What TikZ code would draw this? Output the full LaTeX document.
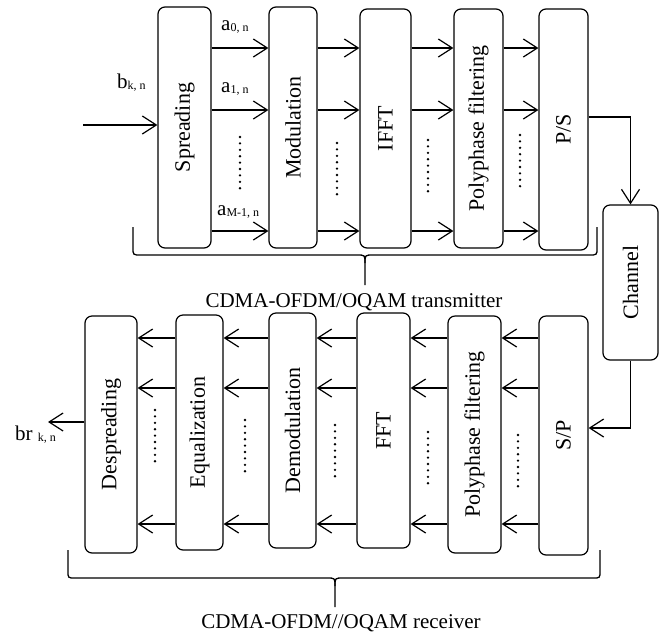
\documentclass[tikz,border=0pt]{standalone}
\usepackage{fontspec}
\setmainfont{Liberation Serif}
\usetikzlibrary{arrows.meta}
\begin{document}
\begin{tikzpicture}[x=1pt,y=-1pt,
  box/.style={draw, line width=1.2pt, rounded corners=7pt, inner sep=0pt, font=\fontsize{22}{22}\selectfont},
  arr/.style={line width=1.2pt, -{Straight Barb[length=14pt,width=18pt,line width=1.2pt]}},
  dotline/.style={line width=2.6pt, line cap=round, dash pattern=on 0pt off 6.4pt},
  brace/.style={line width=1.3pt},
  lbl/.style={inner sep=0pt, anchor=base west, font=\fontsize{21}{21}\selectfont},
  captext/.style={inner sep=0pt, anchor=base, font=\fontsize{21}{21}\selectfont}]
\useasboundingbox (0,0) rectangle (666,641);
\newcommand{\sbs}[1]{{\fontsize{12}{12}\selectfont\raisebox{-1.5pt}{#1}}}
% transmitter boxes
\node[box, minimum width=53pt, minimum height=241pt] (sp)   at (184.5,127.5) {\rotatebox{90}{Spreading}};
\node[box, minimum width=48pt, minimum height=241pt] (mod)  at (293,127.5)   {\rotatebox{90}{Modulation}};
\node[box, minimum width=51pt, minimum height=239pt] (ifft) at (385.5,128.5) {\rotatebox{90}{IFFT}};
\node[box, minimum width=49pt, minimum height=239pt] (ppt)  at (478.5,128.5) {\rotatebox{90}{Polyphase filtering}};
\node[box, minimum width=49pt, minimum height=241pt] (ps)   at (563.5,129.5) {\rotatebox{90}{P/S}};
\node[box, minimum width=55pt, minimum height=155pt] (ch)   at (630.5,282.5) {\rotatebox{90}{Channel}};
% receiver boxes
\node[box, minimum width=52pt, minimum height=237pt] (desp) at (111,434.5)   {\rotatebox{90}{Despreading}};
\node[box, minimum width=47pt, minimum height=235pt] (eq)   at (199.5,432.5) {\rotatebox{90}{Equalization}};
\node[box, minimum width=47pt, minimum height=235pt] (dem)  at (292.5,430.5) {\rotatebox{90}{Demodulation}};
\node[box, minimum width=53pt, minimum height=235pt] (fft)  at (383.5,430.5) {\rotatebox{90}{FFT}};
\node[box, minimum width=53pt, minimum height=237pt] (ppr)  at (474.5,434.5) {\rotatebox{90}{Polyphase filtering}};
\node[box, minimum width=49pt, minimum height=239pt] (spr)  at (563.5,435.5) {\rotatebox{90}{S/P}};
% input / output
\coordinate (in) at (83,125);
\coordinate (out) at (48,422);
\draw[arr] (in) -- (sp.west |- in);
\draw[arr] (desp.west |- out) -- (out);
% transmitter arrows
\foreach \a/\b in {sp/mod, mod/ifft, ifft/ppt, ppt/ps}{
  \foreach \yy in {48,110,231}{
    \draw[arr] (\a.east |- 0,\yy) -- (\b.west |- 0,\yy);
  }
}
% receiver arrows
\foreach \a/\b in {spr/ppr, ppr/fft, fft/dem, dem/eq, eq/desp}{
  \foreach \yy in {338,388,524}{
    \draw[arr] (\a.west |- 0,\yy) -- (\b.east |- 0,\yy);
  }
}
% channel links
\draw[arr] (ps.east |- 0,117) -| (ch.north);
\draw[arr] (ch.south) |- (spr.east |- 0,428);
% dots
\foreach \xx/\ya in {240/137, 337/143, 428/140, 520/135}{
  \draw[dotline] (\xx,\ya) -- (\xx,\ya+52);
}
\foreach \xx/\ya in {155/410, 245/420, 335/425, 428/432, 518/435}{
  \draw[dotline] (\xx,\ya) -- (\xx,\ya+52);
}
% labels
\node[lbl] (lb) at (117,88) {b\sbs{k, n}};
\node[lbl] (la0) at (221,30) {a\sbs{0, n}};
\node[lbl] (la1) at (221,92) {a\sbs{1, n}};
\node[lbl] (laM) at (217,215) {a\sbs{M-1, n}};
\node[lbl] (lbr) at (15,440) {br \sbs{k, n}};
% braces
\draw[brace] (133,227) -- (133,248) .. controls (133,255) .. (141,255) -- (357,255) .. controls (365,255) .. (365,263) -- (365,285);
\draw[brace] (597,227) -- (597,248) .. controls (597,255) .. (589,255) -- (373,255) .. controls (365,255) .. (365,263);
\draw[brace] (68,550) -- (68,571) .. controls (68,578) .. (75,578) -- (327,578) .. controls (335,578) .. (335,586) -- (335,607);
\draw[brace] (600,550) -- (600,571) .. controls (600,578) .. (593,578) -- (343,578) .. controls (335,578) .. (335,586);
\node[captext] (tx) at (354,307) {CDMA-OFDM/OQAM transmitter};
\node[captext] (rx) at (341,628) {CDMA-OFDM//OQAM receiver};
\end{tikzpicture}
\end{document}
